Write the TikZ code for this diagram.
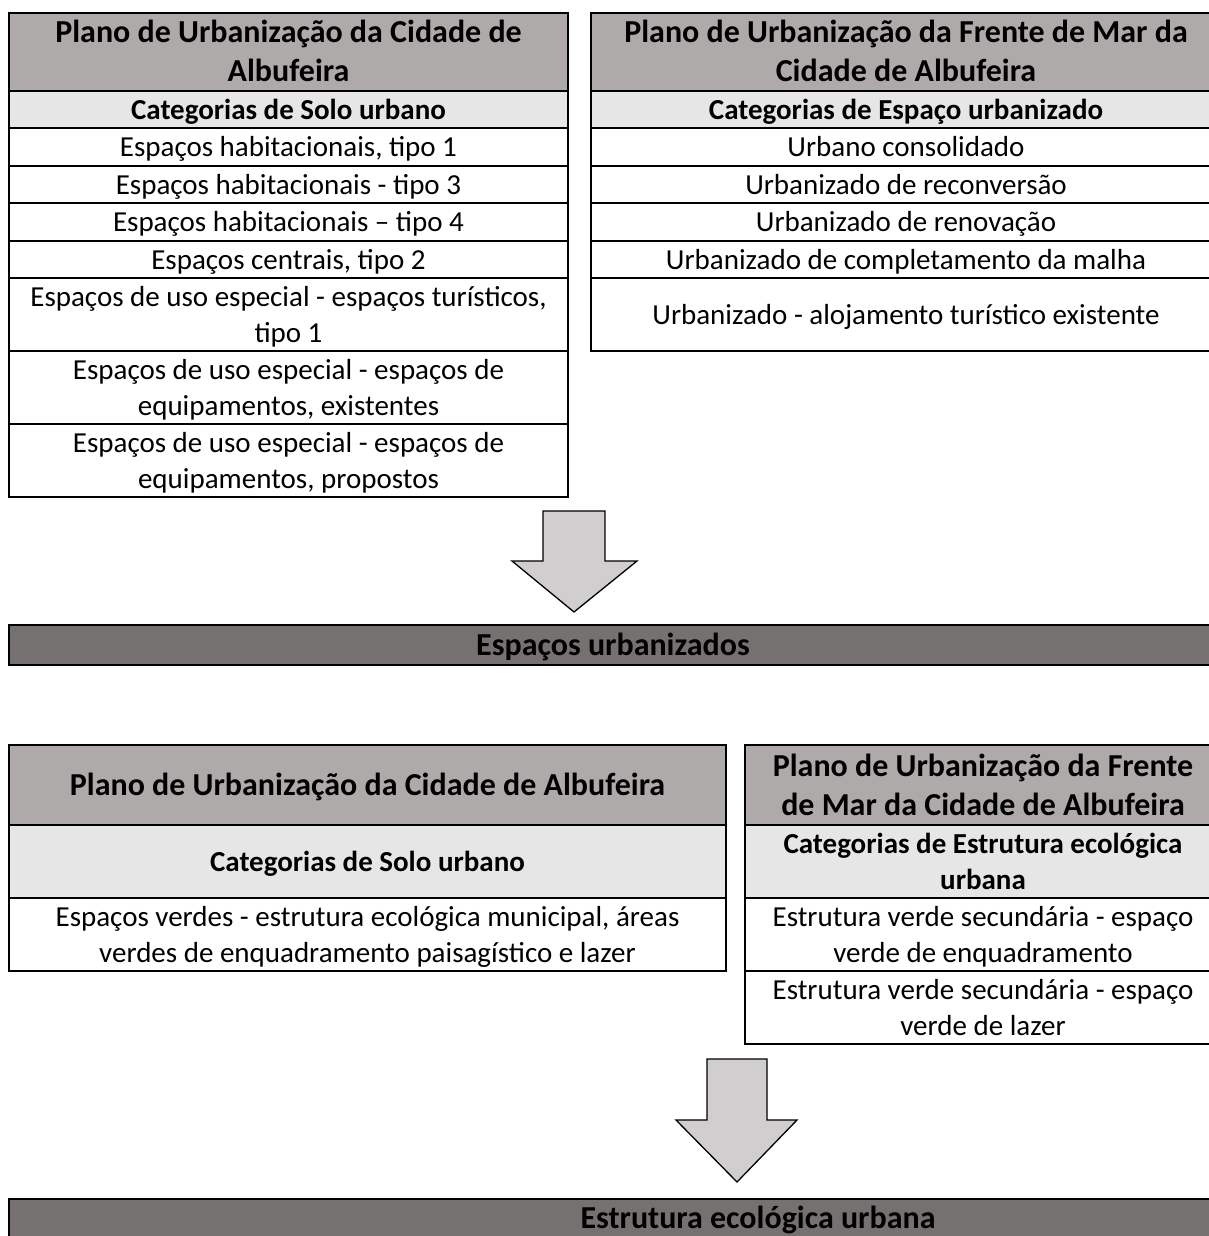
\documentclass[tikz,border=0pt]{standalone}
\usepackage{fontspec}
\setmainfont{Carlito}
\definecolor{hdr}{HTML}{AEAAAA}
\definecolor{catg}{HTML}{E7E6E6}
\definecolor{barc}{HTML}{767171}
\definecolor{arrc}{HTML}{D0CECE}
\newcommand\ms{\vrule width0pt height 28pt depth 8pt\relax}
\newcommand\mt{\vrule width0pt height 30pt depth 9pt\relax}
\tikzset{
  cell/.style={draw=black, line width=2pt, anchor=north west, inner sep=0pt, align=center,
    font=\fontsize{29}{36.5}\selectfont},
  hdrcell/.style={cell, fill=hdr, font=\fontsize{32}{39}\selectfont\bfseries},
  catcell/.style={cell, fill=catg, font=\fontsize{29}{36.5}\selectfont\bfseries},
  barcell/.style={cell, fill=barc, font=\fontsize{32}{39}\selectfont\bfseries},
  blockarrow/.style={draw=black, line width=1.3pt, fill=arrc, line join=miter}
}
\begin{document}
\begin{tikzpicture}[x=1pt, y=-1pt]
\useasboundingbox (0,0) rectangle (1208,1236);
% ---------- top-left table ----------
\node[hdrcell, minimum width=559pt, minimum height=78pt] (tlh) at (8,12) {\mt Plano de Urbanização da Cidade de\\Albufeira\mt};
\node[catcell, minimum width=559pt, minimum height=37pt] (tlc) at (8,90) {\ms Categorias de Solo urbano};
\node[cell, minimum width=559pt, minimum height=37.5pt] (tl1) at (8,127) {\ms Espaços habitacionais, tipo 1};
\node[cell, minimum width=559pt, minimum height=37.5pt] (tl2) at (8,164.5) {\ms Espaços habitacionais - tipo 3};
\node[cell, minimum width=559pt, minimum height=37.5pt] (tl3) at (8,202) {\ms Espaços habitacionais – tipo 4};
\node[cell, minimum width=559pt, minimum height=37.5pt] (tl4) at (8,239.5) {\ms Espaços centrais, tipo 2};
\node[cell, minimum width=559pt, minimum height=73pt] (tl5) at (8,277) {\ms Espaços de uso especial - espaços turísticos,\\tipo 1\ms};
\node[cell, minimum width=559pt, minimum height=73pt] (tl6) at (8,350) {\ms Espaços de uso especial - espaços de\\equipamentos, existentes\ms};
\node[cell, minimum width=559pt, minimum height=73pt] (tl7) at (8,423) {\ms Espaços de uso especial - espaços de\\equipamentos, propostos\ms};
% ---------- top-right table ----------
\node[hdrcell, minimum width=630pt, minimum height=78pt] (trh) at (590,12) {\mt Plano de Urbanização da Frente de Mar da\\Cidade de Albufeira\mt};
\node[catcell, minimum width=630pt, minimum height=37pt] (trc) at (590,90) {\ms Categorias de Espaço urbanizado};
\node[cell, minimum width=630pt, minimum height=37.5pt] (tr1) at (590,127) {\ms Urbano consolidado};
\node[cell, minimum width=630pt, minimum height=37.5pt] (tr2) at (590,164.5) {\ms Urbanizado de reconversão};
\node[cell, minimum width=630pt, minimum height=37.5pt] (tr3) at (590,202) {\ms Urbanizado de renovação};
\node[cell, minimum width=630pt, minimum height=37.5pt] (tr4) at (590,239.5) {\ms Urbanizado de completamento da malha};
\node[cell, minimum width=630pt, minimum height=73pt] (tr5) at (590,277) {\ms Urbanizado - alojamento turístico existente};
% ---------- arrow 1 ----------
\draw[blockarrow] (543,511) -- (605,511) -- (605,561) -- (637,561) -- (574,612) -- (512,561) -- (543,561) -- cycle;
% ---------- bar 1 ----------
\node[barcell, minimum width=1208pt, minimum height=40pt] (bar1) at (8,624) {\mt Espaços urbanizados};
% ---------- bottom-left table ----------
\node[hdrcell, minimum width=717pt, minimum height=80pt] (blh) at (8,744) {\mt Plano de Urbanização da Cidade de Albufeira};
\node[catcell, minimum width=717pt, minimum height=73pt] (blc) at (8,824) {\ms Categorias de Solo urbano};
\node[cell, minimum width=717pt, minimum height=72pt] (bl1) at (8,897) {\ms Espaços verdes - estrutura ecológica municipal, áreas\\verdes de enquadramento paisagístico e lazer\ms};
% ---------- bottom-right table ----------
\node[hdrcell, minimum width=476pt, minimum height=80pt] (brh) at (744,744) {\mt Plano de Urbanização da Frente\\de Mar da Cidade de Albufeira\mt};
\node[catcell, minimum width=476pt, minimum height=73pt] (brc) at (744,824) {\ms Categorias de Estrutura ecológica\\urbana\ms};
\node[cell, minimum width=476pt, minimum height=73pt] (br1) at (744,897) {\ms Estrutura verde secundária - espaço\\verde de enquadramento\ms};
\node[cell, minimum width=476pt, minimum height=73pt] (br2) at (744,970) {\ms Estrutura verde secundária - espaço\\verde de lazer\ms};
% ---------- arrow 2 ----------
\draw[blockarrow] (707,1059) -- (767,1059) -- (767,1120) -- (797,1120) -- (737,1182) -- (676,1120) -- (707,1120) -- cycle;
% ---------- bar 2 ----------
\node[barcell, minimum width=1498pt, text height=29pt, text depth=21pt] (bar2) at (8,1198) {Estrutura ecológica urbana};
\end{tikzpicture}
\end{document}
